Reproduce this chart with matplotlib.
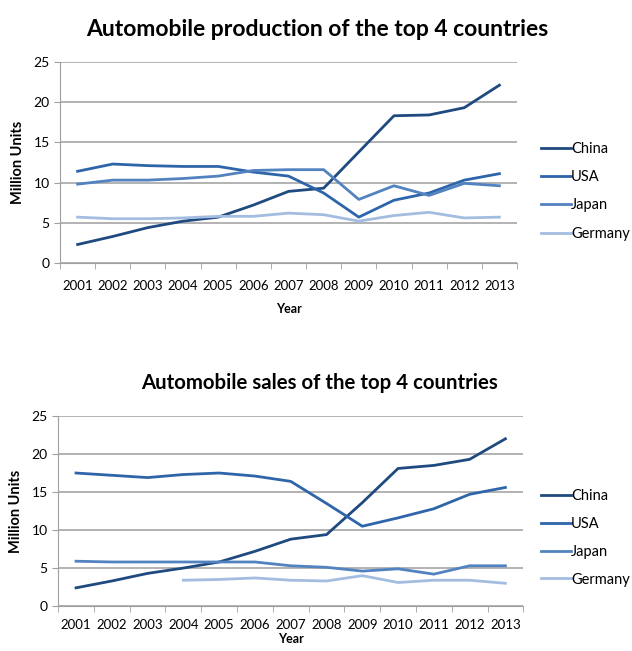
import numpy as np
import matplotlib
matplotlib.use("Agg")
import matplotlib.pyplot as plt

plt.rcParams['font.family'] = ['Lato', 'DejaVu Sans']

years = ['2001', '2002', '2003', '2004', '2005', '2006', '2007',
         '2008', '2009', '2010', '2011', '2012', '2013']
countries = ['China', 'USA', 'Japan', 'Germany']

# production, million units
prod_china = [2.3, 3.3, 4.4, 5.2, 5.7, 7.2, 8.9, 9.3, 13.8, 18.3, 18.4, 19.3, 22.1]
prod_usa = [11.4, 12.3, 12.1, 12.0, 12.0, 11.3, 10.8, 8.7, 5.7, 7.8, 8.7, 10.3, 11.1]
prod_japan = [9.8, 10.3, 10.3, 10.5, 10.8, 11.5, 11.6, 11.6, 7.9, 9.6, 8.4, 9.9, 9.6]
prod_germany = [5.7, 5.5, 5.5, 5.6, 5.8, 5.8, 6.2, 6.0, 5.2, 5.9, 6.3, 5.6, 5.7]

# sales, million units (Germany series starts in 2004)
sales_china = [2.4, 3.3, 4.3, 5.0, 5.8, 7.2, 8.8, 9.4, 13.6, 18.1, 18.5, 19.3, 22.0]
sales_usa = [17.5, 17.2, 16.9, 17.3, 17.5, 17.1, 16.4, 13.5, 10.5, 11.6, 12.8, 14.7, 15.6]
sales_japan = [5.9, 5.8, 5.8, 5.8, 5.8, 5.8, 5.3, 5.1, 4.6, 4.9, 4.2, 5.3, 5.3]
sales_germany = [np.nan, np.nan, np.nan, 3.4, 3.5, 3.7, 3.4, 3.3, 4.0, 3.1, 3.4, 3.4, 3.0]

colors = ['#1f4a80', '#2e65aa', '#5283c0', '#a3bde0']


def draw_chart(fig, rect, series, legend_y, spacing, tick_pad, year_pad):
    ax = fig.add_axes(rect)
    x = np.arange(len(years))
    for vals, name, c in zip(series, countries, colors):
        ax.plot(x, vals, color=c, lw=2.0, label=name, solid_joinstyle='round')

    ax.set_xlim(-0.5, len(years) - 0.5)
    ax.set_ylim(0, 25)
    ax.set_yticks([0, 5, 10, 15, 20, 25])
    ax.set_xticks(x)
    ax.set_xticklabels(years, fontsize=9.5)
    ax.set_xticks(np.arange(-0.5, len(years)), minor=True)
    ax.tick_params(axis='x', which='major', length=0, pad=tick_pad)
    ax.tick_params(axis='x', which='minor', length=4, color='#a0a0a0')
    ax.tick_params(axis='y', length=4, color='#a0a0a0', labelsize=10)
    ax.grid(axis='y', color='#a6a6a6', lw=1.2)
    ax.set_axisbelow(True)
    for s in ['top', 'right']:
        ax.spines[s].set_visible(False)
    for s in ['left', 'bottom']:
        ax.spines[s].set_color('#a0a0a0')
    ax.set_ylabel('Million Units', fontsize=10.5, fontweight='bold', labelpad=6)
    ax.set_xlabel('Year', fontsize=9, fontweight='bold', labelpad=year_pad)

    h, l = ax.get_legend_handles_labels()
    fig.legend(h, l, loc='center left', bbox_to_anchor=(0.846, legend_y),
               frameon=False, fontsize=10.5, handlelength=2.1, handletextpad=0.0,
               labelspacing=spacing, borderaxespad=0)
    return ax


fig = plt.figure(figsize=(6.32, 6.51), dpi=100)

draw_chart(fig, [0.095, 0.596, 0.723, 0.309],
           [prod_china, prod_usa, prod_japan, prod_germany], 0.706, 0.97, 12, 8)
fig.text(0.502, 0.954, 'Automobile production of the top 4 countries',
         ha='center', va='center', fontsize=16.5, fontweight='bold')

draw_chart(fig, [0.092, 0.069, 0.736, 0.292],
           [sales_china, sales_usa, sales_japan, sales_germany], 0.174, 0.95, 9, 2)
fig.text(0.506, 0.412, 'Automobile sales of the top 4 countries',
         ha='center', va='center', fontsize=14.7, fontweight='bold')

fig.savefig('out.png', dpi=100)
